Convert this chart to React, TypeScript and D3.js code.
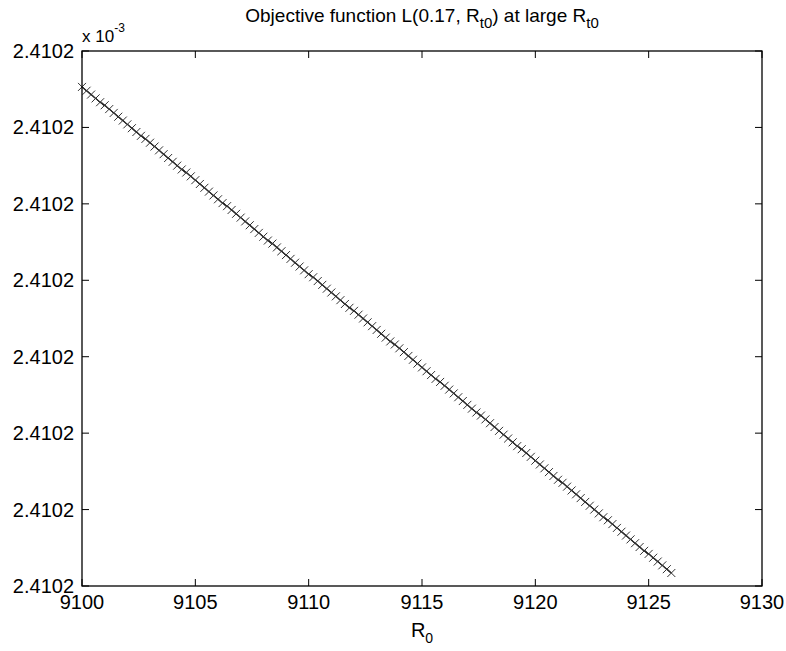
import React from "react";
import * as d3 from "d3";

// R0 values (x)
const r0Values: number[] = [
  9100.0, 9100.2, 9100.4, 9100.6, 9100.8, 9101.0, 9101.2, 9101.4, 9101.6, 9101.8,
  9102.0, 9102.2, 9102.4, 9102.6, 9102.8, 9103.0, 9103.2, 9103.4, 9103.6, 9103.8,
  9104.0, 9104.2, 9104.4, 9104.6, 9104.8, 9105.0, 9105.2, 9105.4, 9105.6, 9105.8,
  9106.0, 9106.2, 9106.4, 9106.6, 9106.8, 9107.0, 9107.2, 9107.4, 9107.6, 9107.8,
  9108.0, 9108.2, 9108.4, 9108.6, 9108.8, 9109.0, 9109.2, 9109.4, 9109.6, 9109.8,
  9110.0, 9110.2, 9110.4, 9110.6, 9110.8, 9111.0, 9111.2, 9111.4, 9111.6, 9111.8,
  9112.0, 9112.2, 9112.4, 9112.6, 9112.8, 9113.0, 9113.2, 9113.4, 9113.6, 9113.8,
  9114.0, 9114.2, 9114.4, 9114.6, 9114.8, 9115.0, 9115.2, 9115.4, 9115.6, 9115.8,
  9116.0, 9116.2, 9116.4, 9116.6, 9116.8, 9117.0, 9117.2, 9117.4, 9117.6, 9117.8,
  9118.0, 9118.2, 9118.4, 9118.6, 9118.8, 9119.0, 9119.2, 9119.4, 9119.6, 9119.8,
  9120.0, 9120.2, 9120.4, 9120.6, 9120.8, 9121.0, 9121.2, 9121.4, 9121.6, 9121.8,
  9122.0, 9122.2, 9122.4, 9122.6, 9122.8, 9123.0, 9123.2, 9123.4, 9123.6, 9123.8,
  9124.0, 9124.2, 9124.4, 9124.6, 9124.8, 9125.0, 9125.2, 9125.4, 9125.6, 9125.8,
  9126.0,
];

// Objective values, as offsets in tick units above 2.4102e-3 (axis bottom = 0, top = 7)
const objValues: number[] = [
  6.53, 6.48, 6.43, 6.38, 6.33, 6.29, 6.24, 6.19, 6.14, 6.09,
  6.04, 5.99, 5.94, 5.89, 5.85, 5.80, 5.75, 5.70, 5.65, 5.60,
  5.55, 5.50, 5.45, 5.41, 5.36, 5.31, 5.26, 5.21, 5.16, 5.11,
  5.06, 5.01, 4.97, 4.92, 4.87, 4.82, 4.77, 4.72, 4.67, 4.62,
  4.57, 4.52, 4.48, 4.43, 4.38, 4.33, 4.28, 4.23, 4.18, 4.13,
  4.08, 4.04, 3.99, 3.94, 3.89, 3.84, 3.79, 3.74, 3.69, 3.64,
  3.60, 3.55, 3.50, 3.45, 3.40, 3.35, 3.30, 3.25, 3.20, 3.16,
  3.11, 3.06, 3.01, 2.96, 2.91, 2.86, 2.81, 2.76, 2.71, 2.67,
  2.62, 2.57, 2.52, 2.47, 2.42, 2.37, 2.32, 2.27, 2.23, 2.18,
  2.13, 2.08, 2.03, 1.98, 1.93, 1.88, 1.83, 1.79, 1.74, 1.69,
  1.64, 1.59, 1.54, 1.49, 1.44, 1.39, 1.35, 1.30, 1.25, 1.20,
  1.15, 1.10, 1.05, 1.00, 0.95, 0.90, 0.86, 0.81, 0.76, 0.71,
  0.66, 0.61, 0.56, 0.51, 0.46, 0.42, 0.37, 0.32, 0.27, 0.22,
  0.17,
];

const xTicks: number[] = [9100, 9105, 9110, 9115, 9120, 9125, 9130];
const yTicks: number[] = [0, 1, 2, 3, 4, 5, 6, 7];
const yTickLabels: string[] = ["2.4102", "2.4102", "2.4102", "2.4102", "2.4102", "2.4102", "2.4102", "2.4102"];

const W = 786;
const H = 651;
const L = 82;
const R = 762;
const T = 51;
const B = 586;
const FONT = "Arial, 'Liberation Sans', Helvetica, sans-serif";

export default function App() {
  const x = d3.scaleLinear().domain([9100, 9130]).range([L, R]);
  const y = d3.scaleLinear().domain([0, 7]).range([B, T]);
  const pts = r0Values.map((v, i) => [x(v), y(objValues[i])] as [number, number]);
  const line = d3.line()(pts) || "";
  const tickLen = 7;
  const m = 4;
  const markerPath = pts
    .map(([px, py]) => `M${px - m},${py - m}L${px + m},${py + m}M${px - m},${py + m}L${px + m},${py - m}`)
    .join("");

  return (
    <svg
      width={W}
      height={H}
      style={{ position: "absolute", left: 0, top: 0, background: "#fff" }}
      fontFamily={FONT}
    >
      <rect x={0} y={0} width={W} height={H} fill="#fff" />
      {/* data */}
      <path d={line} fill="none" stroke="#000" strokeWidth={1.2} />
      <path d={markerPath} fill="none" stroke="#333" strokeWidth={1} />
      {/* box */}
      <rect x={L} y={T} width={R - L} height={B - T} fill="none" stroke="#000" strokeWidth={1.3} />
      {/* x ticks */}
      {xTicks.map((t) => (
        <g key={"xt" + t}>
          <line x1={x(t)} x2={x(t)} y1={B} y2={B - tickLen} stroke="#000" />
          <line x1={x(t)} x2={x(t)} y1={T} y2={T + tickLen} stroke="#000" />
          <text x={x(t)} y={609} fontSize={20} textAnchor="middle" fill="#000">
            {t}
          </text>
        </g>
      ))}
      {/* y ticks */}
      {yTicks.map((t, i) => (
        <g key={"yt" + t}>
          <line x1={L} x2={L + tickLen} y1={y(t)} y2={y(t)} stroke="#000" />
          <line x1={R} x2={R - tickLen} y1={y(t)} y2={y(t)} stroke="#000" />
          <text x={74} y={y(t) + 7} fontSize={20} textAnchor="end" fill="#000">
            {yTickLabels[i]}
          </text>
        </g>
      ))}
      {/* exponent */}
      <text x={82} y={42} fontSize={17} fill="#000">
        x 10
        <tspan dy={-10} fontSize={12}>-3</tspan>
      </text>
      {/* title */}
      <text x={(L + R) / 2} y={22} fontSize={19} textAnchor="middle" fill="#000">
        Objective function L(0.17, R
        <tspan dy={6} fontSize={15}>t0</tspan>
        <tspan dy={-6}>) at large R</tspan>
        <tspan dy={6} fontSize={15}>t0</tspan>
      </text>
      {/* x label */}
      <text x={(L + R) / 2} y={637} fontSize={20} textAnchor="middle" fill="#000">
        R<tspan dy={6} fontSize={14}>0</tspan>
      </text>
    </svg>
  );
}
